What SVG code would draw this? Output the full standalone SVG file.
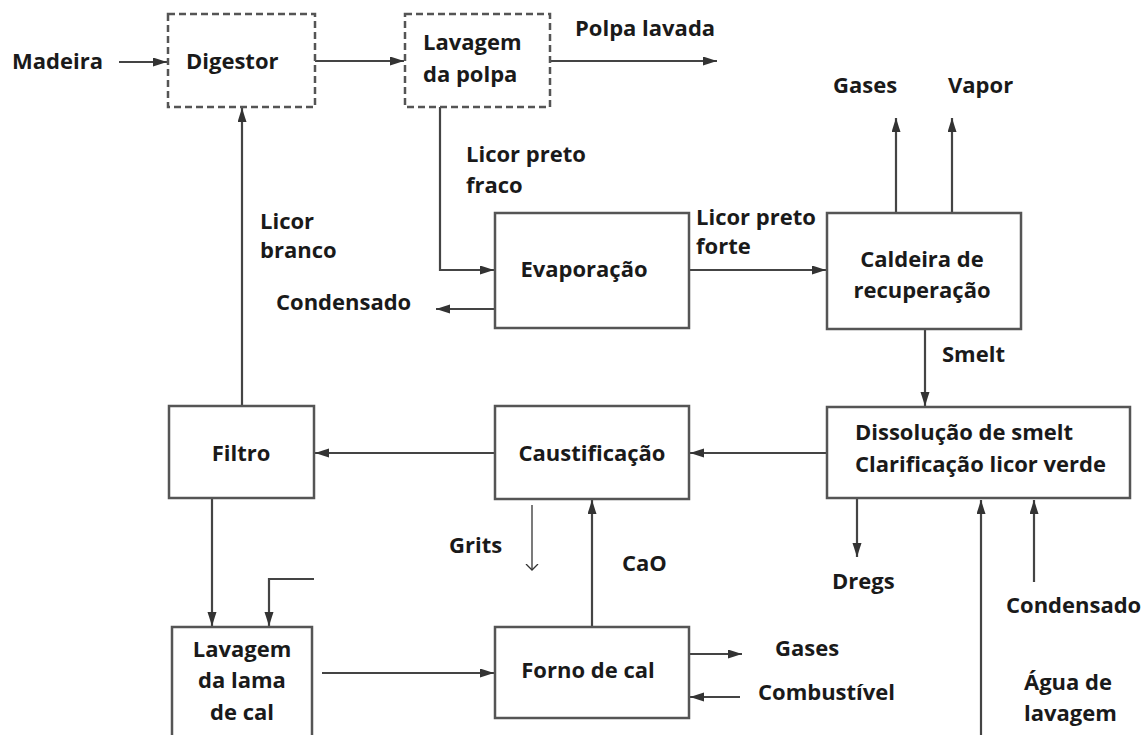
<svg xmlns="http://www.w3.org/2000/svg" width="1146" height="735" viewBox="0 0 1146 735">
<style>
  text { font-family: "Open Sans", Lato, "Liberation Sans", sans-serif; font-weight: bold; font-size: 22px; fill: #1a1a1a; }
  .c { text-anchor: middle; }
  .box { fill: #ffffff; stroke: #555555; stroke-width: 2.5; }
  .dash { fill: #ffffff; stroke: #555555; stroke-width: 2.5; stroke-dasharray: 7 4; }
  .ln { fill: none; stroke: #444444; stroke-width: 2.2; marker-end: url(#ah); }
  .thin { fill: none; stroke: #333333; stroke-width: 1.3; marker-end: url(#oh); }
</style>
<defs>
  <marker id="ah" markerUnits="userSpaceOnUse" markerWidth="16" markerHeight="10" refX="14" refY="4.5" orient="auto">
    <path d="M0,0 L14,4.5 L0,9 Z" fill="#333333"/>
  </marker>
  <marker id="oh" markerUnits="userSpaceOnUse" markerWidth="12" markerHeight="14" refX="6" refY="7" orient="auto">
    <path d="M0,1 L6,7 L0,13" fill="none" stroke="#333333" stroke-width="1.3"/>
  </marker>
</defs>
<rect width="1146" height="735" fill="#ffffff"/>

<g id="connectors">
  <path class="ln" d="M119,62 H167"/>
  <path class="ln" d="M315,61 H404"/>
  <path class="ln" d="M550,61 H717"/>
  <path class="ln" d="M440,107 V270 H494"/>
  <path class="ln" d="M495,309 H436"/>
  <path class="ln" d="M689,270 H826"/>
  <path class="ln" d="M896,213 V118"/>
  <path class="ln" d="M952,213 V118"/>
  <path class="ln" d="M925,329 V406"/>
  <path class="ln" d="M827,453 H690"/>
  <path class="ln" d="M495,453 H315"/>
  <path class="ln" d="M242,406 V108"/>
  <path class="ln" d="M212,498 V626"/>
  <path class="ln" d="M314,579 H269 V626"/>
  <path class="thin" d="M532,505 V570"/>
  <path class="ln" d="M592,627 V500"/>
  <path class="ln" d="M322,673 H494"/>
  <path class="ln" d="M689,654 H742"/>
  <path class="ln" d="M740,697 H690"/>
  <path class="ln" d="M857,498 V557"/>
  <path class="ln" d="M1034,582 V500"/>
  <path class="ln" d="M981,735 V500"/>
</g>

<g id="labels">
  <text x="12" y="69">Madeira</text>
  <text x="575" y="36">Polpa lavada</text>
  <text x="466" y="162">Licor preto</text>
  <text x="466" y="193">fraco</text>
  <text x="260" y="229">Licor</text>
  <text x="260" y="258">branco</text>
  <text x="696" y="225">Licor preto</text>
  <text x="696" y="254">forte</text>
  <text x="276" y="310">Condensado</text>
  <text x="833" y="93">Gases</text>
  <text x="948" y="93">Vapor</text>
  <text x="942" y="362">Smelt</text>
  <text x="449" y="553">Grits</text>
  <text x="622" y="571">CaO</text>
  <text x="832" y="589">Dregs</text>
  <text x="1006" y="613">Condensado</text>
  <text x="775" y="656">Gases</text>
  <text x="758" y="700">Combustível</text>
  <text x="1024" y="690">Água de</text>
  <text x="1024" y="721">lavagem</text>
</g>

<g id="digestor">
  <rect class="dash" x="168" y="14" width="147" height="93"/>
  <text x="186" y="69">Digestor</text>
</g>
<g id="lavagem-polpa">
  <rect class="dash" x="405" y="14" width="145" height="93"/>
  <text x="423" y="50">Lavagem</text>
  <text x="423" y="82">da polpa</text>
</g>
<g id="evaporacao">
  <rect class="box" x="495" y="213" width="194" height="115"/>
  <text class="c" x="584" y="277">Evaporação</text>
</g>
<g id="caldeira">
  <rect class="box" x="827" y="213" width="194" height="116"/>
  <text class="c" x="922" y="267">Caldeira de</text>
  <text class="c" x="922" y="298">recuperação</text>
</g>
<g id="dissolucao">
  <rect class="box" x="827" y="407" width="303" height="91"/>
  <text x="855" y="440">Dissolução de smelt</text>
  <text x="855" y="472">Clarificação licor verde</text>
</g>
<g id="caustificacao">
  <rect class="box" x="495" y="406" width="194" height="93"/>
  <text class="c" x="592" y="461">Caustificação</text>
</g>
<g id="filtro">
  <rect class="box" x="169" y="406" width="145" height="92"/>
  <text class="c" x="241" y="461">Filtro</text>
</g>
<g id="lavagem-lama">
  <rect class="box" x="172" y="627" width="140" height="115"/>
  <text class="c" x="242" y="657">Lavagem</text>
  <text class="c" x="242" y="688">da lama</text>
  <text class="c" x="242" y="720">de cal</text>
</g>
<g id="forno">
  <rect class="box" x="495" y="627" width="194" height="91"/>
  <text class="c" x="588" y="678">Forno de cal</text>
</g>
</svg>
